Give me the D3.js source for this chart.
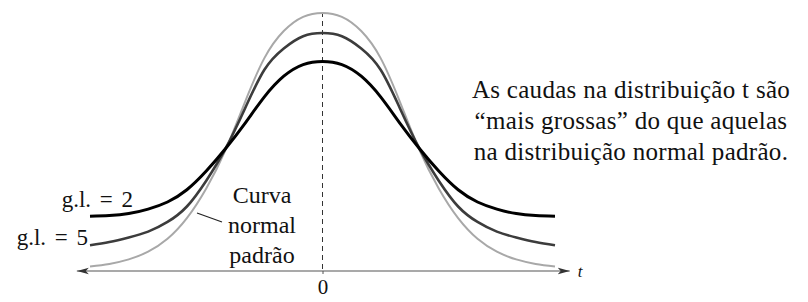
<!DOCTYPE html>
<html>
<head>
<meta charset="utf-8">
<script src="https://cdn.jsdelivr.net/npm/d3@7"></script>
<style>
  body { margin: 0; background: #fff; }
  svg { display: block; }
  text { font-family: 'Liberation Serif', 'DejaVu Serif', serif; fill: #111; }
</style>
</head>
<body>
<svg id="chart" width="808" height="302"></svg>
<script>
// t values along the axis
const tValues = [-3, -2.75, -2.5, -2.25, -2, -1.75, -1.5, -1.25, -1, -0.75, -0.5, -0.25,
  0, 0.25, 0.5, 0.75, 1, 1.25, 1.5, 1.75, 2, 2.25, 2.5, 2.75, 3];

// heights
const normalValues = [0.007, 0.011, 0.018, 0.030, 0.050, 0.082, 0.128, 0.188, 0.262, 0.330, 0.372, 0.394,
  0.400, 0.394, 0.372, 0.330, 0.262, 0.188, 0.128, 0.082, 0.050, 0.030, 0.018, 0.011, 0.007];
const df5Values = [0.040, 0.045, 0.052, 0.061, 0.076, 0.100, 0.140, 0.190, 0.252, 0.312, 0.345, 0.364,
  0.369, 0.364, 0.345, 0.312, 0.252, 0.190, 0.140, 0.100, 0.076, 0.061, 0.052, 0.045, 0.040];
const df2Values = [0.085, 0.086, 0.089, 0.096, 0.107, 0.126, 0.155, 0.190, 0.229, 0.270, 0.302, 0.320,
  0.325, 0.320, 0.302, 0.270, 0.229, 0.190, 0.155, 0.126, 0.107, 0.096, 0.089, 0.086, 0.085];

const xTicks = [0];
const axisExtent = [-3.17, 3.19];

const svg = d3.select('#chart');

const x = d3.scaleLinear().domain([-3, 3]).range([90, 555]);
const y = d3.scaleLinear().domain([0, 0.4]).range([271, 13]);

// arrow heads
const defs = svg.append('defs');
['end', 'start'].forEach((k) => {
  defs.append('marker')
    .attr('id', 'arrow-' + k)
    .attr('viewBox', '0 0 12 8')
    .attr('refX', k === 'end' ? 12 : 0)
    .attr('refY', 4)
    .attr('markerWidth', 12)
    .attr('markerHeight', 8)
    .attr('markerUnits', 'userSpaceOnUse')
    .attr('orient', 'auto')
    .append('path')
    .attr('d', k === 'end' ? 'M0,0.8 L12,4 L0,7.2 L3,4 Z' : 'M12,0.8 L0,4 L12,7.2 L9,4 Z')
    .attr('fill', '#333');
});

// dashed line at t = 0
svg.append('line')
  .attr('x1', x(0)).attr('x2', x(0))
  .attr('y1', y(0.4) - 1).attr('y2', y(0))
  .attr('stroke', '#333')
  .attr('stroke-width', 1)
  .attr('stroke-dasharray', '5,4');

// axis
svg.append('line')
  .attr('x1', x(axisExtent[0])).attr('x2', x(axisExtent[1]))
  .attr('y1', y(0)).attr('y2', y(0))
  .attr('stroke', '#555')
  .attr('stroke-width', 1.2)
  .attr('marker-start', 'url(#arrow-start)')
  .attr('marker-end', 'url(#arrow-end)');

const xAxis = svg.append('g')
  .attr('transform', `translate(0,${y(0)})`)
  .call(d3.axisBottom(x).tickValues(xTicks).tickFormat(d3.format('d')).tickSize(3).tickPadding(5));
xAxis.select('.domain').remove();
xAxis.selectAll('line').attr('stroke', '#555');
xAxis.selectAll('text')
  .attr('font-size', 21)
  .attr('fill', '#111');

svg.append('text')
  .attr('x', x(axisExtent[1]) + 8)
  .attr('y', y(0) + 6)
  .attr('font-size', 17)
  .attr('font-style', 'italic')
  .text('t');

// curves
const line = d3.line()
  .x((d, i) => x(tValues[i]))
  .y((d) => y(d))
  .curve(d3.curveNatural);

const series = [
  { values: normalValues, color: '#a8a8a8', width: 2 },
  { values: df5Values, color: '#3c3c3c', width: 2.6 },
  { values: df2Values, color: '#000', width: 3 },
];

svg.selectAll('.curve')
  .data(series)
  .enter()
  .append('path')
  .attr('class', 'curve')
  .attr('d', (d) => line(d.values))
  .attr('fill', 'none')
  .attr('stroke', (d) => d.color)
  .attr('stroke-width', (d) => d.width);

// labels
svg.append('text')
  .attr('x', 133).attr('y', 207)
  .attr('text-anchor', 'end')
  .attr('font-size', 23)
  .attr('word-spacing', 3)
  .text('g.l. = 2');

svg.append('text')
  .attr('x', 88).attr('y', 245)
  .attr('text-anchor', 'end')
  .attr('font-size', 23)
  .attr('word-spacing', 3)
  .text('g.l. = 5');

const normLabel = ['Curva', 'normal', 'padrão'];
svg.selectAll('.norm-label')
  .data(normLabel)
  .enter()
  .append('text')
  .attr('class', 'norm-label')
  .attr('x', 262)
  .attr('y', (d, i) => 203 + i * 30)
  .attr('text-anchor', 'middle')
  .attr('font-size', 24)
  .text((d) => d);

svg.append('line')
  .attr('x1', 197).attr('y1', 213)
  .attr('x2', 222).attr('y2', 222)
  .attr('stroke', '#222')
  .attr('stroke-width', 1.2);

const note = [
  'As caudas na distribuição t são',
  '\u201Cmais grossas\u201D do que aquelas',
  'na distribuição normal padrão.',
];
svg.selectAll('.note')
  .data(note)
  .enter()
  .append('text')
  .attr('class', 'note')
  .attr('x', 631)
  .attr('y', (d, i) => 98 + i * 31)
  .attr('text-anchor', 'middle')
  .attr('font-size', 25)
  .attr('letter-spacing', 0.3)
  .text((d) => d);
</script>
</body>
</html>
